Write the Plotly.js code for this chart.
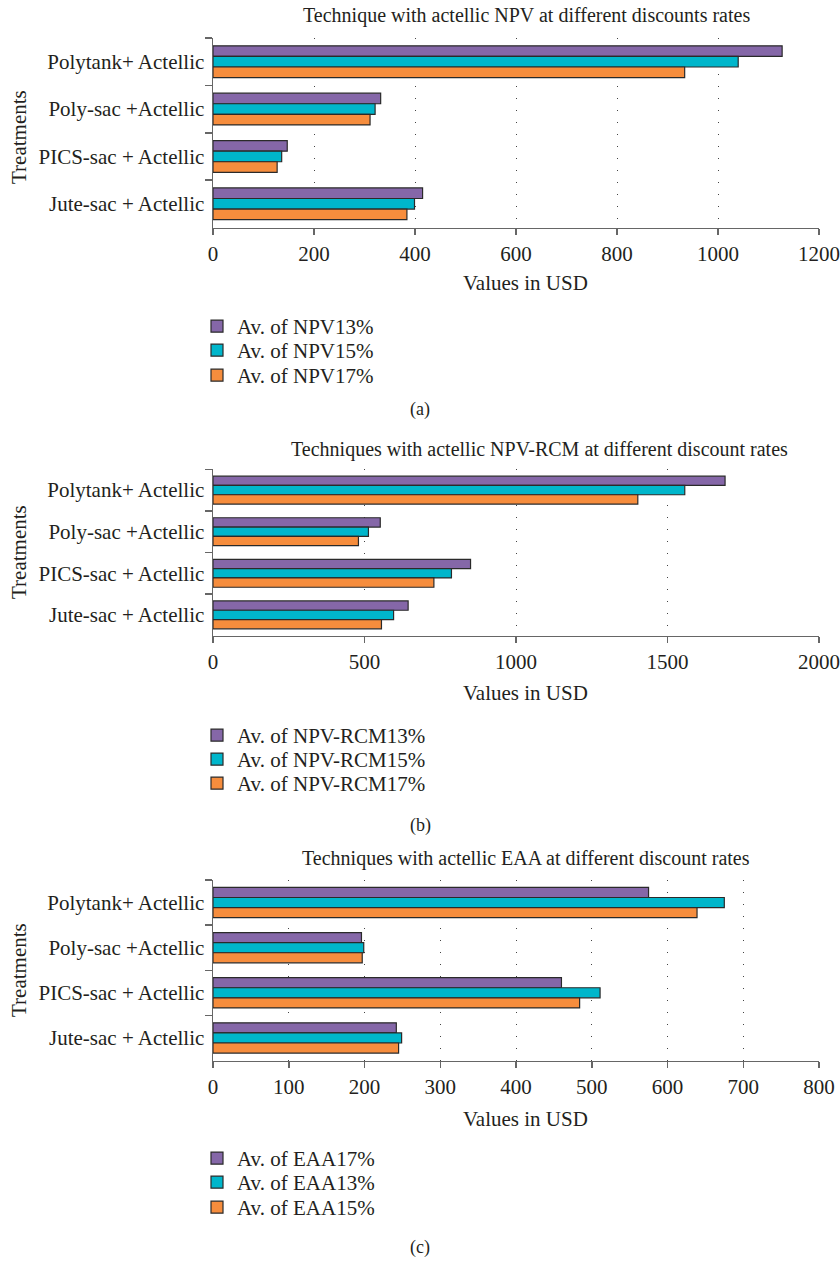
<!DOCTYPE html>
<html>
<head>
<meta charset="utf-8">
<script src="https://cdn.plot.ly/plotly-3.0.1.min.js"></script>
<style>html,body{margin:0;padding:0;background:#fff;}#chart{width:840px;height:1261px;}</style>
</head>
<body>
<div id="chart"></div>
<script>
// ---- data ----
const categories = ['Polytank+ Actellic', 'Poly-sac +Actellic', 'PICS-sac + Actellic', 'Jute-sac + Actellic'];

const npv13 = [1127, 332, 147, 415];
const npv15 = [1040, 321, 136, 399];
const npv17 = [934, 311, 127, 384];

const rcm13 = [1690, 552, 850, 644];
const rcm15 = [1557, 513, 787, 596];
const rcm17 = [1402, 480, 729, 556];

const eaa17 = [575, 196, 460, 242];
const eaa13 = [675, 199, 511, 249];
const eaa15 = [639, 197, 484, 245];

const ticksA = [0, 200, 400, 600, 800, 1000, 1200];
const ticksB = [0, 500, 1000, 1500, 2000];
const ticksC = [0, 100, 200, 300, 400, 500, 600, 700, 800];

const namesA = ['Av. of NPV13%', 'Av. of NPV15%', 'Av. of NPV17%'];
const namesB = ['Av. of NPV-RCM13%', 'Av. of NPV-RCM15%', 'Av. of NPV-RCM17%'];
const namesC = ['Av. of EAA17%', 'Av. of EAA13%', 'Av. of EAA15%'];

const titleA = 'Technique with actellic NPV at different discounts rates';
const titleB = 'Techniques with actellic NPV-RCM at different discount rates';
const titleC = 'Techniques with actellic EAA at different discount rates';

// ---- style ----
const W = 840, H = 1261;
const colors = ['#8567A8', '#00B6CB', '#F68D3D'];
const FONT = 'Liberation Serif, Times New Roman, serif';
const TXT = '#231F20';
const FS = 21;
const px = v => v / W;
const py = v => 1 - v / H;

function mk(vals, name, color, xa, ya, lg) {
  return {
    type: 'bar', orientation: 'h', x: vals, y: categories, name: name,
    xaxis: xa, yaxis: ya, legend: lg,
    marker: {color: color, line: {color: '#2a2a2a', width: 1.2}},
    hoverinfo: 'x+name'
  };
}

const data = [
  mk(npv13, namesA[0], colors[0], 'x', 'y', 'legend'),
  mk(npv15, namesA[1], colors[1], 'x', 'y', 'legend2'),
  mk(npv17, namesA[2], colors[2], 'x', 'y', 'legend3'),
  mk(rcm13, namesB[0], colors[0], 'x2', 'y2', 'legend4'),
  mk(rcm15, namesB[1], colors[1], 'x2', 'y2', 'legend5'),
  mk(rcm17, namesB[2], colors[2], 'x2', 'y2', 'legend6'),
  mk(eaa17, namesC[0], colors[0], 'x3', 'y3', 'legend7'),
  mk(eaa13, namesC[1], colors[1], 'x3', 'y3', 'legend8'),
  mk(eaa15, namesC[2], colors[2], 'x3', 'y3', 'legend9')
];

function xax(range, ticks, yanchor) {
  return {
    domain: [px(213), px(819)], anchor: yanchor, range: range,
    tickmode: 'array', tickvals: ticks,
    showline: true, linecolor: '#666', linewidth: 1.5,
    ticks: 'outside', ticklen: 6, tickcolor: '#666', tickwidth: 1.5,
    showgrid: true, gridcolor: '#444', gridwidth: 1, griddash: '1px,11px',
    zeroline: false, ticklabelstandoff: 1,
    tickfont: {family: FONT, size: FS, color: TXT}, fixedrange: true
  };
}
function yax(top, bottom, xanchor) {
  return {
    domain: [py(bottom), py(top)], anchor: xanchor,
    type: 'category', categoryorder: 'array', categoryarray: categories,
    autorange: 'reversed',
    showline: true, linecolor: '#666', linewidth: 1.5,
    ticks: 'outside', ticklen: 7, tickcolor: '#666', tickwidth: 1.5,
    tickson: 'boundaries', showgrid: false, zeroline: false,
    ticklabelstandoff: 3,
    tickfont: {family: FONT, size: FS, color: TXT}, fixedrange: true
  };
}
function ann(text, x, y, size, angle) {
  return {text: text, xref: 'paper', yref: 'paper', x: px(x), y: py(y),
    xanchor: 'center', yanchor: 'middle', showarrow: false,
    textangle: angle || 0, font: {family: FONT, size: size, color: TXT}};
}
function leg(center) {
  return {x: px(197), y: py(center - 19), xanchor: 'left', yanchor: 'top',
    bgcolor: 'rgba(0,0,0,0)', font: {family: FONT, size: FS, color: TXT},
    tracegroupgap: 0, itemclick: false, itemdoubleclick: false};
}

const layout = {
  width: W, height: H, margin: {l: 0, r: 0, t: 0, b: 0},
  paper_bgcolor: '#fff', plot_bgcolor: '#fff',
  barmode: 'group', bargap: 0.33, bargroupgap: 0,
  showlegend: true,
  xaxis: xax([0, 1200], ticksA, 'y'),
  yaxis: yax(38, 227.5, 'x'),
  xaxis2: xax([0, 2000], ticksB, 'y2'),
  yaxis2: yax(469.3, 635.7, 'x2'),
  xaxis3: xax([0, 800], ticksC, 'y3'),
  yaxis3: yax(880, 1060.5, 'x3'),
  legend: leg(325),
  legend2: leg(349),
  legend3: leg(374),
  legend4: leg(734),
  legend5: leg(758),
  legend6: leg(782),
  legend7: leg(1157),
  legend8: leg(1181),
  legend9: leg(1206),
  annotations: [
    ann(titleA, 526, 16, 20),
    ann(titleB, 539, 449, 20),
    ann(titleC, 526, 858, 20),
    ann('Values in USD', 525, 283, FS),
    ann('Values in USD', 525, 693, FS),
    ann('Values in USD', 525, 1119, FS),
    ann('Treatments', 19, 137, FS, -90),
    ann('Treatments', 19, 552, FS, -90),
    ann('Treatments', 19, 970, FS, -90),
    ann('(a)', 420, 410, 18),
    ann('(b)', 420, 825, 18),
    ann('(c)', 420, 1247, 18)
  ]
};

Plotly.newPlot('chart', data, layout, {displayModeBar: false, staticPlot: true});
</script>
</body>
</html>
